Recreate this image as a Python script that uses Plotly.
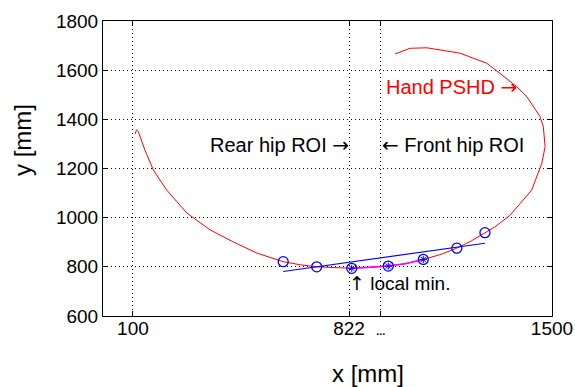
import plotly.graph_objects as go

# Red hand trajectory (Hand PSHD)
curve_x = [107, 112, 118, 124, 140, 168, 213, 280, 358, 434, 514, 602, 660, 714, 768, 831,
           890, 953, 1010, 1070, 1130, 1182, 1230, 1276, 1310, 1360, 1404, 1432, 1466, 1477,
           1471, 1460, 1416, 1382, 1326, 1282, 1193, 1082, 1026, 976]
curve_y = [1340, 1357, 1350, 1329, 1275, 1194, 1112, 1019, 950, 902, 856, 821, 808, 800, 796, 794,
           797, 803, 813, 830, 851, 876, 905, 939, 963, 1010, 1072, 1112, 1221, 1289,
           1370, 1411, 1492, 1533, 1587, 1628, 1669, 1691, 1689, 1666]

# Magenta segment after local minimum
mag_x = [831, 890, 953, 1010, 1070]
mag_y = [794, 797, 803, 813, 830]

# Sample points (blue circles)
pts_x = [602, 714, 831, 953, 1070, 1182, 1276]
pts_y = [821, 800, 794, 803, 830, 876, 939]

# Inner markers
inner_x = [831, 953, 1070]
inner_y = [794, 803, 830]

# Blue fitted line
fit_x = [602, 1276]
fit_y = [781, 896]

x_tickvals = [100, 822, 928, 1500]
x_ticktext = ["100", "822", "<span style='font-size:11px'><b>...</b></span>", "1500"]
y_tickvals = [600, 800, 1000, 1200, 1400, 1600, 1800]

FONT = "Liberation Sans, Arial, Helvetica, sans-serif"
ARROW = "<span style='font-family:DejaVu Sans'>{}</span>"

fig = go.Figure()
fig.add_trace(go.Scatter(x=curve_x, y=curve_y, mode="lines",
                         line=dict(color="#ff0000", width=1), showlegend=False))
fig.add_trace(go.Scatter(x=fit_x, y=fit_y, mode="lines",
                         line=dict(color="#0000ff", width=1.2), showlegend=False))
fig.add_trace(go.Scatter(x=mag_x, y=mag_y, mode="lines",
                         line=dict(color="#ff00ff", width=1.5), showlegend=False))
fig.add_trace(go.Scatter(x=pts_x, y=pts_y, mode="markers",
                         marker=dict(symbol="circle-open", size=10, color="#0000ff",
                                     line=dict(color="#0000ff", width=1.3)),
                         showlegend=False))
fig.add_trace(go.Scatter(x=inner_x, y=inner_y, mode="markers",
                         marker=dict(symbol="asterisk-open", size=6, color="#0000ff",
                                     line=dict(color="#0000ff", width=1)),
                         showlegend=False))

axis_common = dict(showline=True, linecolor="black", linewidth=1, mirror="ticks",
                   ticks="inside", ticklen=5, tickcolor="black",
                   showgrid=True, gridcolor="black", gridwidth=1, griddash="1px,3px",
                   zeroline=False, tickfont=dict(family=FONT, size=19, color="black"))

fig.update_xaxes(range=[0, 1500], tickmode="array", tickvals=x_tickvals,
                 ticktext=x_ticktext, ticklabelstandoff=-5, **axis_common)
fig.update_yaxes(range=[600, 1800], tickmode="array", tickvals=y_tickvals, **axis_common)

anns = [
    dict(x=830, y=1295, text="Rear hip ROI " + ARROW.format("→"), xanchor="right",
         color="black", size=20),
    dict(x=924, y=1295, text=ARROW.format("←") + " Front hip ROI", xanchor="left",
         color="black", size=20),
    dict(x=1390, y=1532, text="Hand PSHD " + ARROW.format("→"), xanchor="right",
         color="#ff0000", size=20),
    dict(x=816, y=733, text=ARROW.format("↑") + " local min.", xanchor="left",
         color="black", size=19),
]
for a in anns:
    fig.add_annotation(x=a["x"], y=a["y"], xref="x", yref="y", text=a["text"],
                       showarrow=False, xanchor=a["xanchor"], yanchor="middle",
                       font=dict(family=FONT, size=a["size"], color=a["color"]))

fig.add_annotation(x=(368 - 103) / 449, y=(316 - 373) / 295, xref="paper", yref="paper",
                   text="x [mm]", showarrow=False, xanchor="center", yanchor="middle",
                   font=dict(family=FONT, size=24, color="black"))
fig.add_annotation(x=(22 - 103) / 449, y=(316 - 140) / 295, xref="paper", yref="paper",
                   text="y [mm]", textangle=-90, showarrow=False,
                   xanchor="center", yanchor="middle",
                   font=dict(family=FONT, size=24, color="black"))

fig.update_layout(width=575, height=387,
                  margin=dict(l=103, r=23, t=21, b=71, autoexpand=False),
                  paper_bgcolor="white", plot_bgcolor="white")

fig.write_html("out.html", config={"displayModeBar": False},
               post_script="document.body.style.margin='0';")
